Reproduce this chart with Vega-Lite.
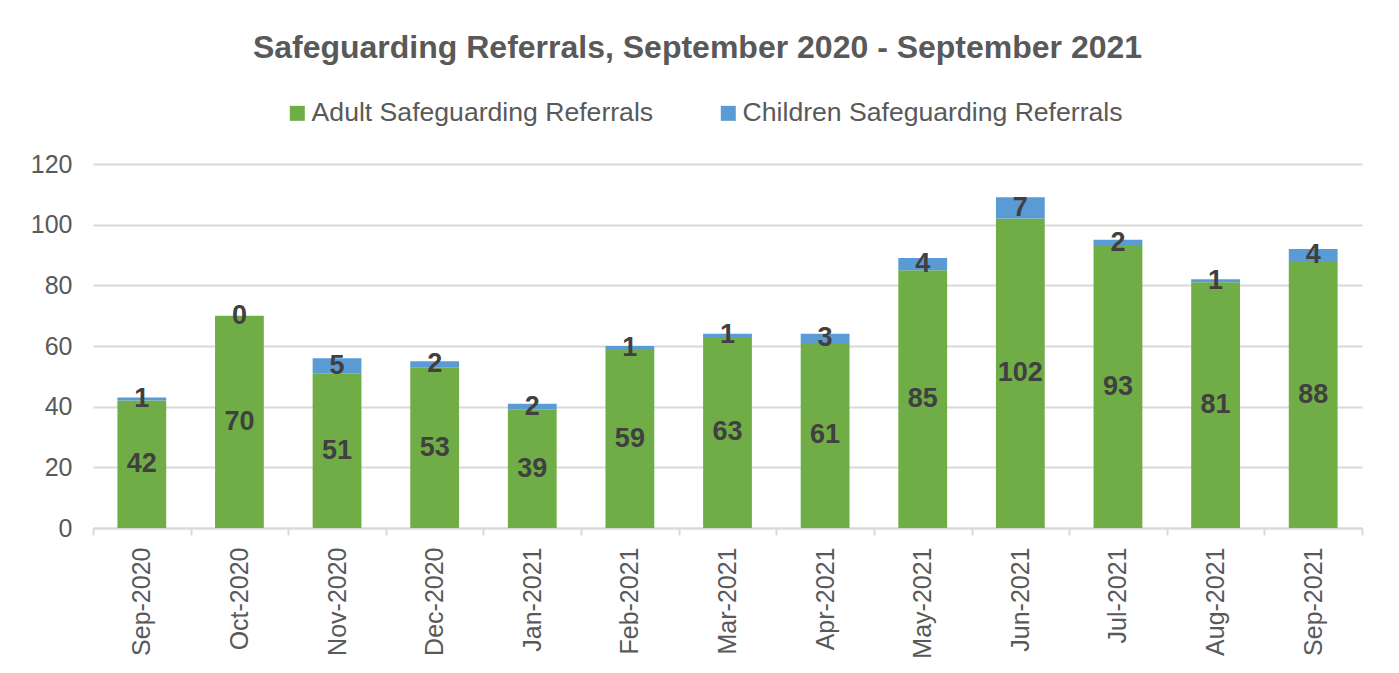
{
  "$schema": "https://vega.github.io/schema/vega-lite/v6.json",
  "autosize": "none",
  "width": 1269,
  "height": 364,
  "padding": {"left": 93, "top": 164, "right": 37, "bottom": 145},
  "background": "white",
  "title": {
    "text": "Safeguarding Referrals, September 2020 -  September 2021",
    "fontSize": 32,
    "fontWeight": "bold",
    "color": "#595959",
    "font": "Liberation Sans",
    "anchor": "middle",
    "dx": -30,
    "baseline": "alphabetic",
    "offset": 10
  },
  "config": {
    "view": {"stroke": null},
    "font": "Liberation Sans"
  },
  "data": {
    "values": [
      {"month": "Sep-2020", "type": "Adult Safeguarding Referrals", "value": 42},
      {"month": "Oct-2020", "type": "Adult Safeguarding Referrals", "value": 70},
      {"month": "Nov-2020", "type": "Adult Safeguarding Referrals", "value": 51},
      {"month": "Dec-2020", "type": "Adult Safeguarding Referrals", "value": 53},
      {"month": "Jan-2021", "type": "Adult Safeguarding Referrals", "value": 39},
      {"month": "Feb-2021", "type": "Adult Safeguarding Referrals", "value": 59},
      {"month": "Mar-2021", "type": "Adult Safeguarding Referrals", "value": 63},
      {"month": "Apr-2021", "type": "Adult Safeguarding Referrals", "value": 61},
      {"month": "May-2021", "type": "Adult Safeguarding Referrals", "value": 85},
      {"month": "Jun-2021", "type": "Adult Safeguarding Referrals", "value": 102},
      {"month": "Jul-2021", "type": "Adult Safeguarding Referrals", "value": 93},
      {"month": "Aug-2021", "type": "Adult Safeguarding Referrals", "value": 81},
      {"month": "Sep-2021", "type": "Adult Safeguarding Referrals", "value": 88},
      {"month": "Sep-2020", "type": "Children Safeguarding Referrals", "value": 1},
      {"month": "Oct-2020", "type": "Children Safeguarding Referrals", "value": 0},
      {"month": "Nov-2020", "type": "Children Safeguarding Referrals", "value": 5},
      {"month": "Dec-2020", "type": "Children Safeguarding Referrals", "value": 2},
      {"month": "Jan-2021", "type": "Children Safeguarding Referrals", "value": 2},
      {"month": "Feb-2021", "type": "Children Safeguarding Referrals", "value": 1},
      {"month": "Mar-2021", "type": "Children Safeguarding Referrals", "value": 1},
      {"month": "Apr-2021", "type": "Children Safeguarding Referrals", "value": 3},
      {"month": "May-2021", "type": "Children Safeguarding Referrals", "value": 4},
      {"month": "Jun-2021", "type": "Children Safeguarding Referrals", "value": 7},
      {"month": "Jul-2021", "type": "Children Safeguarding Referrals", "value": 2},
      {"month": "Aug-2021", "type": "Children Safeguarding Referrals", "value": 1},
      {"month": "Sep-2021", "type": "Children Safeguarding Referrals", "value": 4}
    ]
  },
  "encoding": {
    "x": {
      "field": "month",
      "type": "nominal",
      "sort": null,
      "scale": {"paddingInner": 0, "paddingOuter": 0},
      "axis": {
        "title": null,
        "labelAngle": -90,
        "labelAlign": "right",
        "labelBaseline": "middle",
        "labelFontSize": 25,
        "labelColor": "#595959",
        "labelPadding": 12,
        "domainColor": "#d9d9d9",
        "domainWidth": 2,
        "tickColor": "#d9d9d9",
        "tickWidth": 2,
        "tickSize": 7,
        "tickBand": "extent"
      }
    },
    "y": {
      "field": "value",
      "type": "quantitative",
      "stack": "zero",
      "scale": {"domain": [0, 120]},
      "axis": {
        "title": null,
        "values": [0, 20, 40, 60, 80, 100, 120],
        "domain": false,
        "ticks": false,
        "gridColor": "#d9d9d9",
        "gridWidth": 2,
        "labelFontSize": 25,
        "labelColor": "#595959",
        "labelPadding": 21
      }
    }
  },
  "layer": [
    {
      "mark": {"type": "bar", "width": {"band": 0.5}},
      "encoding": {
        "color": {
          "field": "type",
          "type": "nominal",
          "scale": {
            "domain": ["Adult Safeguarding Referrals", "Children Safeguarding Referrals"],
            "range": ["#70AD47", "#5B9BD5"]
          },
          "legend": {
            "title": null,
            "orient": "none",
            "direction": "horizontal",
            "legendX": 191,
            "legendY": -64,
            "symbolType": "square",
            "symbolSize": 225,
            "symbolStrokeWidth": 0,
            "labelFontSize": 26.6,
            "labelColor": "#595959",
            "labelOffset": 1,
            "labelLimit": 600,
            "columnPadding": 61,
            "padding": 0
          }
        },
        "order": {"field": "type", "sort": "ascending"}
      }
    },
    {
      "mark": {"type": "text", "fontSize": 27, "fontWeight": "bold", "color": "#404040", "baseline": "middle"},
      "encoding": {
        "y": {"field": "value", "type": "quantitative", "stack": "zero", "bandPosition": 0.5},
        "text": {"field": "value", "type": "quantitative"},
        "detail": {"field": "type"},
        "order": {"field": "type", "sort": "ascending"}
      }
    }
  ]
}
